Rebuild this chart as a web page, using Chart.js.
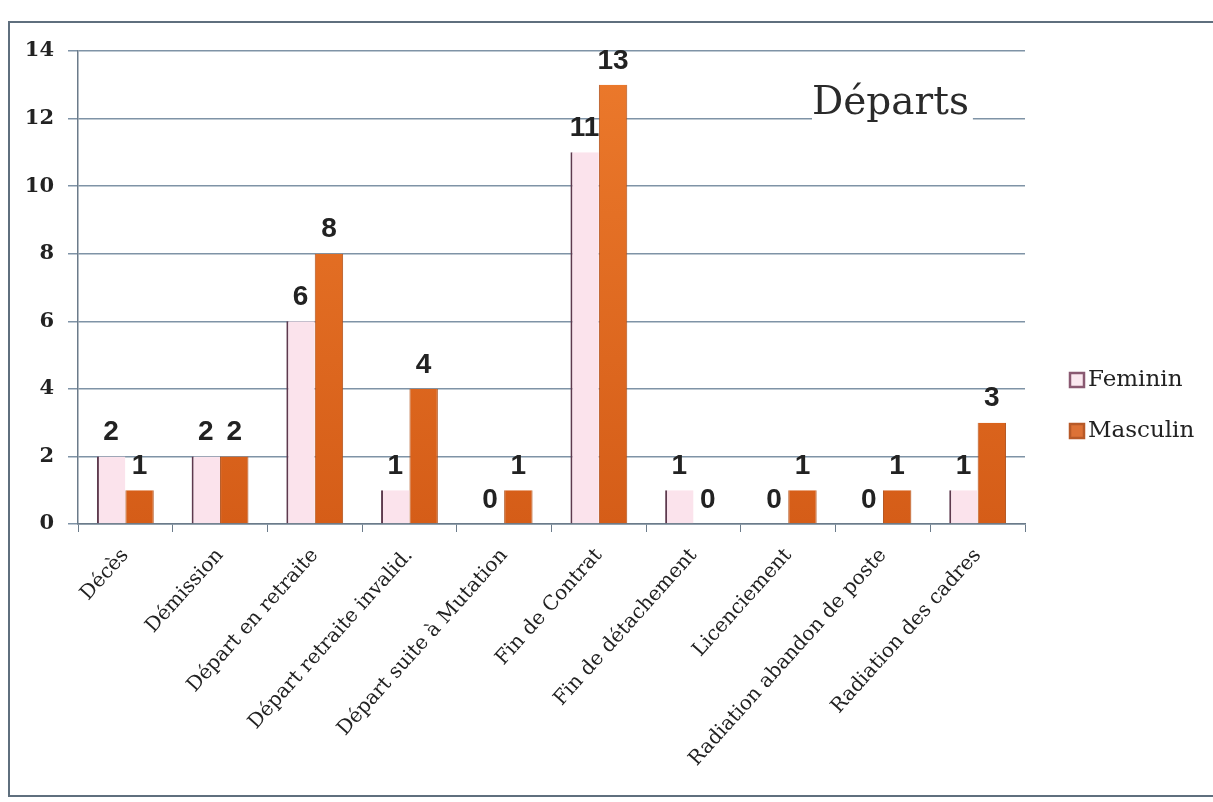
<!DOCTYPE html>
<html>
<head>
<meta charset="utf-8">
<script src="https://cdn.jsdelivr.net/npm/chart.js@4"></script>
<style>
    body { margin: 0; background: #fff; }
    #wrap { position: relative; width: 1213px; height: 802px; overflow: hidden; }
    #frame { position: absolute; left: 8px; top: 21px; width: 1210px; height: 776px;
             border: 2px solid #5f6f7e; border-right: none; box-sizing: border-box; }
    canvas { position: absolute; left: 0; top: 0; }
</style>
</head>
<body>
<div id="wrap">
    <div id="frame"></div>
    <canvas id="chart" width="1213" height="802"></canvas>
</div>
<script>
// Categories and values
const categories = [
    'Décès', 'Démission', 'Départ en retraite', 'Départ retraite invalid.',
    'Départ suite à Mutation', 'Fin de Contrat', 'Fin de détachement',
    'Licenciement', 'Radiation abandon de poste', 'Radiation des cadres'
];
const feminin = [2, 2, 6, 1, 0, 11, 1, 0, 0, 1];
const masculin = [1, 2, 8, 4, 1, 13, 0, 1, 1, 3];
const yTicks = [0, 2, 4, 6, 8, 10, 12, 14];

const serif = '"DejaVu Serif", "Liberation Serif", serif';

// Value labels above bars
const valueLabels = {
    id: 'valueLabels',
    afterDatasetsDraw(chart) {
        const ctx = chart.ctx;
        ctx.save();
        ctx.font = 'bold 28px "Liberation Sans", Arial, sans-serif';
        ctx.fillStyle = '#222';
        ctx.textAlign = 'center';
        ctx.textBaseline = 'bottom';
        chart.data.datasets.forEach((ds, i) => {
            chart.getDatasetMeta(i).data.forEach((bar, j) => {
                ctx.fillText(String(ds.data[j]), bar.x, bar.y - 10);
            });
        });
        ctx.restore();
    }
};

// Title and legend drawn on the canvas
const decor = {
    id: 'decor',
    afterDraw(chart) {
        const ctx = chart.ctx;
        ctx.save();
        // title
        ctx.font = '39px ' + serif;
        const w = ctx.measureText('Départs').width;
        ctx.fillStyle = '#fff';
        ctx.fillRect(812, 110, w + 4, 12);
        ctx.fillStyle = '#2a2a2a';
        ctx.textBaseline = 'alphabetic';
        ctx.fillText('Départs', 812, 114);

        // legend
        const items = [
            { label: 'Feminin', fill: '#fbe9f0', stroke: '#8a5a72', y: 380 },
            { label: 'Masculin', fill: '#dd7236', stroke: '#b85a28', y: 431 }
        ];
        ctx.font = '23px ' + serif;
        ctx.textBaseline = 'middle';
        items.forEach(it => {
            ctx.fillStyle = it.fill;
            ctx.fillRect(1070, it.y - 7, 14, 14);
            ctx.strokeStyle = it.stroke;
            ctx.lineWidth = 2.5;
            ctx.strokeRect(1070, it.y - 7, 14, 14);
            ctx.fillStyle = '#222';
            ctx.fillText(it.label, 1088, it.y);
        });
        ctx.restore();
    }
};

function makeOrange(chart) {
    const { ctx, chartArea } = chart;
    if (!chartArea) return '#e06a22';
    const g = ctx.createLinearGradient(0, chartArea.top, 0, chartArea.bottom);
    g.addColorStop(0, '#ec7a2c');
    g.addColorStop(1, '#d55d18');
    return g;
}

new Chart(document.getElementById('chart'), {
    type: 'bar',
    data: {
        labels: categories,
        datasets: [
            {
                label: 'Feminin',
                data: feminin,
                backgroundColor: '#fbe3ec',
                borderColor: '#5e3a4e',
                borderWidth: { left: 2, top: 0, right: 0, bottom: 0 }
            },
            {
                label: 'Masculin',
                data: masculin,
                backgroundColor: ctx => makeOrange(ctx.chart),
                borderColor: '#b0501a',
                borderWidth: { left: 1, top: 0, right: 1, bottom: 0 }
            }
        ]
    },
    options: {
        responsive: false,
        animation: false,
        layout: { padding: { left: 0, top: 51, right: 188, bottom: 0 } },
        plugins: {
            legend: { display: false },
            tooltip: { enabled: false }
        },
        datasets: {
            bar: { categoryPercentage: 0.6, barPercentage: 1.0 }
        },
        scales: {
            x: {
                grid: {
                    offset: true,
                    drawOnChartArea: false,
                    tickLength: 8,
                    color: '#6b7b8a'
                },
                border: { color: '#6b7b8a', width: 1.5 },
                ticks: {
                    maxRotation: 48,
                    minRotation: 48,
                    autoSkip: false,
                    padding: 12,
                    color: '#222',
                    font: { family: serif, size: 20 }
                },
                afterFit(scale) { scale.height = 802 - 524; }
            },
            y: {
                min: 0,
                max: 14,
                afterBuildTicks(scale) { scale.ticks = yTicks.map(v => ({ value: v })); },
                grid: { color: '#7f93a6', lineWidth: 1.5, tickLength: 10 },
                border: { color: '#6b7b8a', width: 1.5 },
                ticks: {
                    color: '#222',
                    padding: 14,
                    font: { family: serif, size: 21, weight: 'bold' }
                },
                afterFit(scale) { scale.width = 78; }
            }
        }
    },
    plugins: [valueLabels, decor]
});
</script>
</body>
</html>
